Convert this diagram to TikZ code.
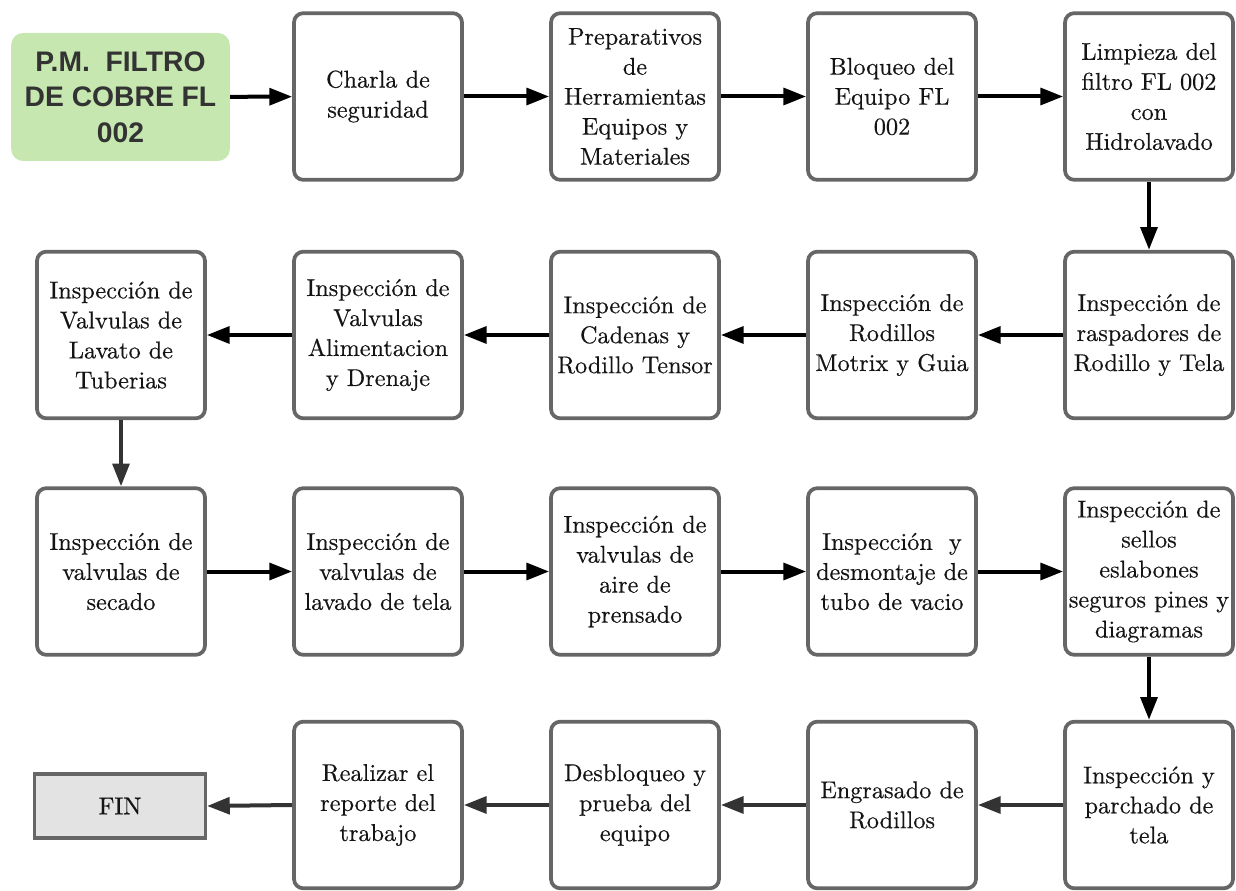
\documentclass[tikz,border=0pt]{standalone}
\usepackage{fontspec}
\newfontfamily\headfont{Liberation Sans}
\newfontfamily\bodyfont{lmroman10-regular}[Extension=.otf, FakeBold=0.4]
\usetikzlibrary{arrows.meta}
\definecolor{boxline}{HTML}{666666}
\definecolor{greenfill}{HTML}{C6E7AF}
\definecolor{finfill}{HTML}{E3E3E3}
\definecolor{headtext}{HTML}{333333}
\definecolor{bodytext}{HTML}{141414}
\tikzset{
  stepbox/.style={draw=boxline, line width=2.8pt, rounded corners=7pt, fill=white,
    minimum width=126pt, minimum height=125pt, inner sep=0pt, align=center,
    text=bodytext, font=\bodyfont\fontsize{18.2}{22.5}\selectfont},
  startbox/.style={fill=greenfill, rounded corners=9pt, minimum width=164pt,
    minimum height=96pt, inner sep=0pt, align=center, text=headtext,
    font=\headfont\bfseries\fontsize{21.2}{26.5}\selectfont},
  finbox/.style={draw=boxline, fill=finfill, line width=2.6pt, minimum width=128pt,
    minimum height=48pt, inner sep=0pt, align=center, text=bodytext,
    font=\bodyfont\fontsize{18.2}{22.5}\selectfont},
  arr/.style={line width=3pt, draw=black, -{Triangle[length=17pt,width=12.5pt]}},
  arrg/.style={arr, draw=headtext, -{Triangle[length=17pt,width=12.5pt,fill=headtext]}}
}
\begin{document}
\begin{tikzpicture}[x=0.75pt,y=-0.75pt]
\useasboundingbox (0,0) rectangle (1236,891);
% row 1
\node[startbox] (g) at (120.5,97) {P.M.\ \ FILTRO\\DE COBRE FL\\002};
\node[stepbox] (a1) at (378,96.5) {Charla de\\seguridad};
\node[stepbox] (a2) at (635,96.5) {Preparativos\\de\\Herramientas\\Equipos y\\Materiales};
\node[stepbox] (a3) at (892,96.5) {Bloqueo del\\Equipo FL\\002};
\node[stepbox] (a4) at (1149,96.5) {Limpieza del\\filtro FL 002\\con\\Hidrolavado};
% row 2
\node[stepbox] (b4) at (1149,335) {Inspección de\\raspadores de\\Rodillo y Tela};
\node[stepbox] (b3) at (892,335) {Inspección de\\Rodillos\\Motrix y Guia};
\node[stepbox] (b2) at (635,335) {Inspección de\\Cadenas y\\Rodillo Tensor};
\node[stepbox] (b1) at (378,335) {Inspección de\\Valvulas\\Alimentacion\\y Drenaje};
\node[stepbox] (b0) at (121,335) {Inspección de\\Valvulas de\\Lavato de\\Tuberias};
% row 3
\node[stepbox] (c0) at (121,571.5) {Inspección de\\valvulas de\\secado};
\node[stepbox] (c1) at (378,571.5) {Inspección de\\valvulas de\\lavado de tela};
\node[stepbox] (c2) at (635,571.5) {Inspección de\\valvulas de\\aire de\\prensado};
\node[stepbox] (c3) at (892,571.5) {Inspección\ \ y\\desmontaje de\\tubo de vacio};
\node[stepbox] (c4) at (1149,571.5) {Inspección de\\sellos\\eslabones\\seguros pines y\\diagramas};
% row 4
\node[stepbox] (d4) at (1149,805) {Inspección y\\parchado de\\tela};
\node[stepbox] (d3) at (892,805) {Engrasado de\\Rodillos};
\node[stepbox] (d2) at (635,805) {Desbloqueo y\\prueba del\\equipo};
\node[stepbox] (d1) at (378,805) {Realizar el\\reporte del\\trabajo};
\node[finbox] (fin) at (120,806) {FIN};
% connectors
\draw[arr] (g) -- (a1);
\draw[arr] (a1) -- (a2);
\draw[arr] (a2) -- (a3);
\draw[arr] (a3) -- (a4);
\draw[arr] (a4) -- (b4);
\draw[arr] (b4) -- (b3);
\draw[arr] (b3) -- (b2);
\draw[arr] (b2) -- (b1);
\draw[arr] (b1) -- (b0);
\draw[arrg] (b0) -- (c0);
\draw[arr] (c0) -- (c1);
\draw[arr] (c1) -- (c2);
\draw[arr] (c2) -- (c3);
\draw[arr] (c3) -- (c4);
\draw[arr] (c4) -- (d4);
\draw[arrg] (d4) -- (d3);
\draw[arrg] (d3) -- (d2);
\draw[arrg] (d2) -- (d1);
\draw[arrg] (d1.west) -- (fin.east);
\end{tikzpicture}
\end{document}
